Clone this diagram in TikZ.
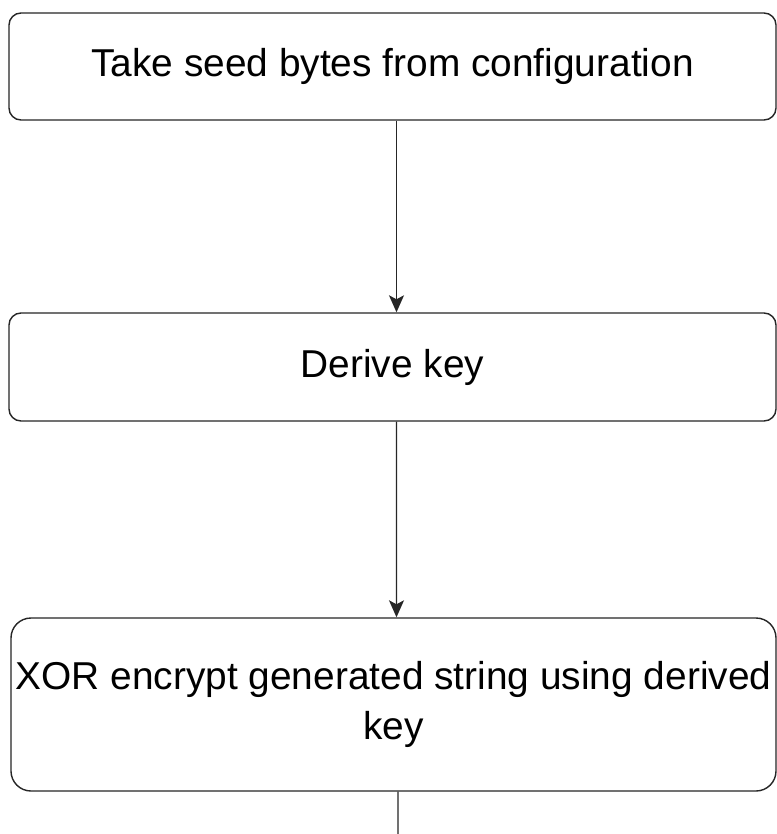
\documentclass[tikz,border=0pt]{standalone}
\usepackage{fontspec}
\setmainfont{Liberation Sans}
\usetikzlibrary{arrows.meta}
\begin{document}
\begin{tikzpicture}[x=1bp,y=-1bp,
  stepbox/.style={draw=black!85, line width=1.4bp, rounded corners=#1, fill=white, align=center,
    inner sep=0pt, font=\fontsize{39}{50}\selectfont},
  flow/.style={draw=black!85, line width=1.4bp, -{Stealth[length=17bp,width=15bp,inset=4bp]}}]
\useasboundingbox[fill=white] (0,0) rectangle (777,834);
\node[stepbox=12bp, minimum width=767bp, minimum height=107bp] (b1) at (392.5,66.5) {Take seed bytes from configuration};
\node[stepbox=12bp, minimum width=767bp, minimum height=108bp] (b2) at (392.5,367) {Derive key};
\node[stepbox=20bp, minimum width=765bp, minimum height=173bp] (b3) at (393.5,704.5) {XOR encrypt generated string using derived\\key};
\coordinate (end) at (398,834);
\draw[flow] ([xshift=4bp]b1.south) -- ([xshift=4bp]b2.north);
\draw[flow] ([xshift=4bp]b2.south) -- ([xshift=3bp]b3.north);
\draw[draw=black!85, line width=1.4bp] ([xshift=4.5bp]b3.south) -- (end);
\end{tikzpicture}
\end{document}
